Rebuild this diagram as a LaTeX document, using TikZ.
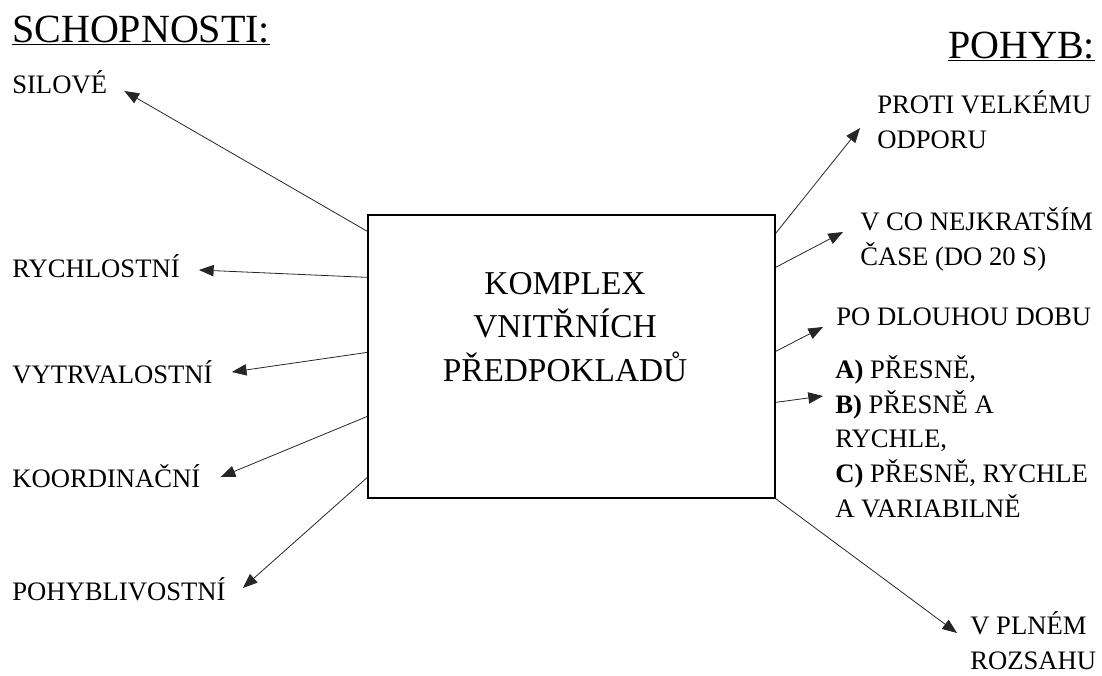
\documentclass[tikz,border=0pt]{standalone}
\usepackage{fontspec}
\setmainfont{Liberation Serif}
\usepackage{tikz}
\usetikzlibrary{arrows.meta, positioning, calc}

\begin{document}
\begin{tikzpicture}[
      x=0.75pt, y=-0.75pt,
      heading/.style={anchor=base west, inner sep=0pt, font=\fontsize{30}{36}\selectfont},
      skill/.style={anchor=base west, inner sep=0pt, font=\fontsize{20}{26}\selectfont},
      motion/.style={anchor=base west, inner sep=0pt, align=left, font=\fontsize{20}{26}\selectfont},
      core/.style={draw, line width=1.2pt, minimum width=305pt, minimum height=212pt, inner sep=0pt},
      link/.style={-{Triangle[length=11pt,width=8.5pt]}, line width=0.6pt, black!85}
    ]
    \useasboundingbox (0,0) rectangle (1102,675);

    % Headings
    \node[heading] (schopnosti) at (12,42) {\underline{SCHOPNOSTI:}};
    \node[heading] (pohyb) at (948,58) {\underline{POHYB:}};

    % Central box (base = last line)
    \node[core] (komplex) at (571.5,356.5) {};
    \node[anchor=base, inner sep=0pt, align=center, font=\fontsize{25}{32.3}\selectfont] (komplextext) at (565,381) {KOMPLEX\\VNITŘNÍCH\\PŘEDPOKLADŮ};

    % Left: abilities
    \node[skill] (silove) at (12,93) {SILOVÉ};
    \node[skill] (rychlostni) at (12,277) {RYCHLOSTNÍ};
    \node[skill] (vytrvalostni) at (12,383) {VYTRVALOSTNÍ};
    \node[skill] (koordinacni) at (12,487) {KOORDINAČNÍ};
    \node[skill] (pohyblivostni) at (12,600) {POHYBLIVOSTNÍ};

    % Right: movement (base = last line)
    \node[motion] (proti) at (877,148) {PROTI VELKÉMU\\ODPORU};
    \node[motion] (vco) at (860,265) {V CO NEJKRATŠÍM\\ČASE (DO 20 S)};
    \node[motion] (dlouho) at (836,325) {PO DLOUHOU DOBU};
    \node[motion] (presne) at (835,517) {\textbf{A)} PŘESNĚ,\\\textbf{B)} PŘESNĚ A\\RYCHLE,\\\textbf{C)} PŘESNĚ, RYCHLE\\A VARIABILNĚ};
    \node[motion] (plnem) at (970,669) {V PLNÉM\\ROZSAHU};

    % Arrows left
    \draw[link] ($(komplex.north west)+(0,17)$) -- ($(silove.base east)+(17,-2)$);
    \draw[link] ($(komplex.north west)+(0,63)$) -- ($(rychlostni.base east)+(19,-7)$);
    \draw[link] ($(komplex.north west)+(0,138)$) -- ($(vytrvalostni.base east)+(19,-11)$);
    \draw[link] ($(komplex.north west)+(0,202)$) -- ($(koordinacni.base east)+(20,-10)$);
    \draw[link] ($(komplex.north west)+(0,263)$) -- ($(pohyblivostni.base east)+(17,-12)$);

    % Arrows right
    \draw[link] ($(komplex.north east)+(0,19)$) -- ($(proti.base west)+(-17,-20)$);
    \draw[link] ($(komplex.north east)+(0,53)$) -- ($(vco.base west)+(-17,-33)$);
    \draw[link] ($(komplex.north east)+(0,137)$) -- ($(dlouho.base west)+(-13,2)$);
    \draw[link] ($(komplex.north east)+(0,188)$) -- ($(presne.base west)+(-12,-121)$);
    \draw[link] (komplex.south east) -- ($(plnem.base west)+(-13,-36)$);
  \end{tikzpicture}
\end{document}
